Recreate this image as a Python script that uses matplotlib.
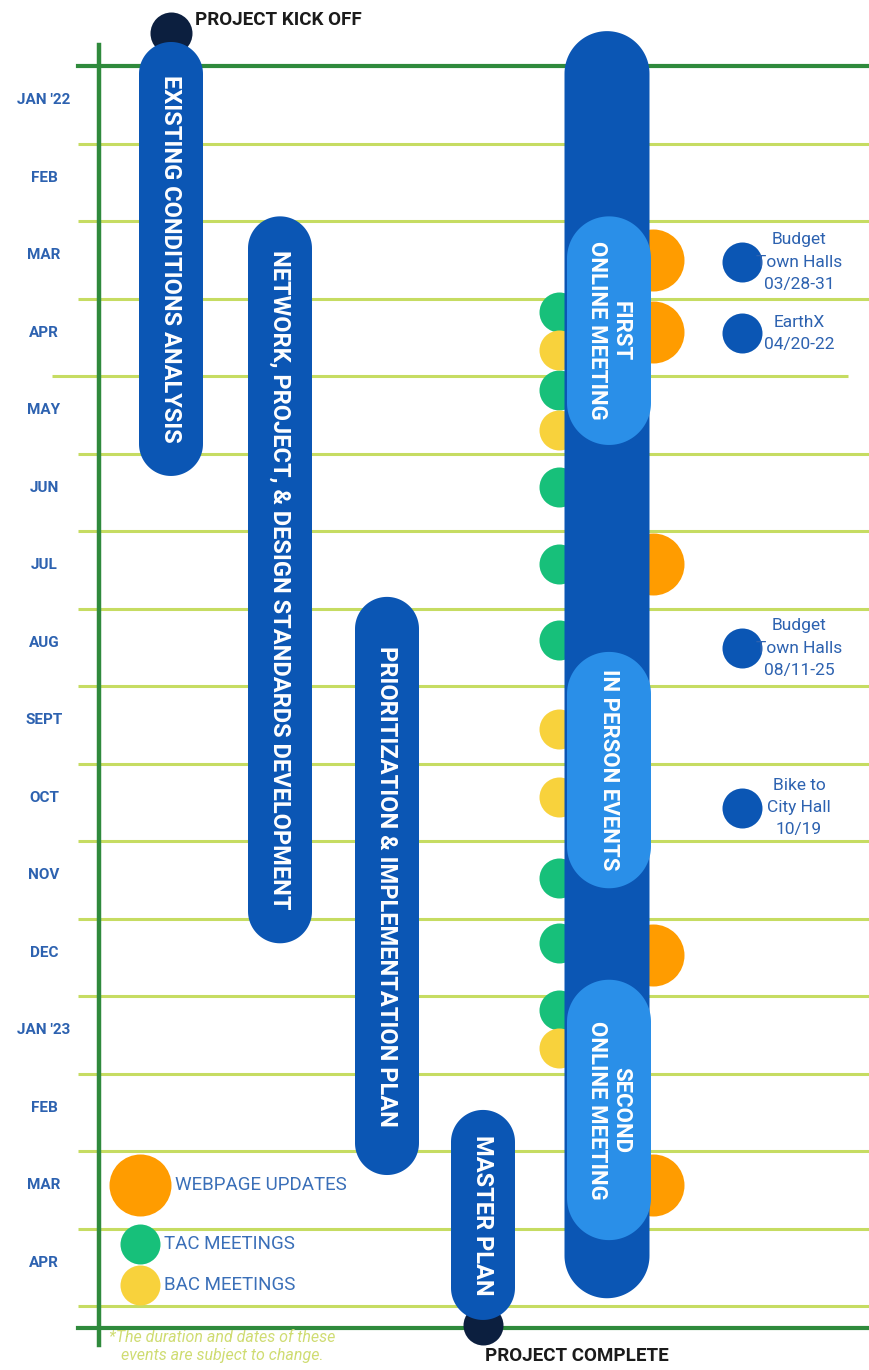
import numpy as np
import matplotlib
matplotlib.use("Agg")
import matplotlib.pyplot as plt
from matplotlib.patches import Polygon

# --- data (time in months, Jan '22 = 0) ---
months = ["JAN '22", "FEB", "MAR", "APR", "MAY", "JUN", "JUL", "AUG",
          "SEPT", "OCT", "NOV", "DEC", "JAN '23", "FEB", "MAR", "APR"]

phase_names = ["EXISTING CONDITIONS ANALYSIS",
               "NETWORK, PROJECT, & DESIGN STANDARDS DEVELOPMENT",
               "PRIORITIZATION & IMPLEMENTATION PLAN",
               "MASTER PLAN"]
phase_start = [-0.31, 1.94, 6.85, 13.47]
phase_end = [5.29, 11.32, 14.31, 16.18]

engage_start, engage_end = -0.45, 15.9
meeting_names = ["FIRST\nONLINE MEETING", "IN PERSON EVENTS", "SECOND\nONLINE MEETING"]
meeting_start = [1.94, 7.56, 11.79]
meeting_end = [4.89, 10.61, 15.15]

tac_months = [3.17, 4.18, 5.43, 6.43, 7.41, 10.48, 11.32, 12.18]
bac_months = [3.66, 4.70, 8.55, 9.43, 12.67]
web_months = [2.50, 3.43, 6.43, 11.47, 14.44]

event_months = [2.53, 3.45, 7.51, 9.57]
event_labels = ["Budget\nTown Halls\n03/28-31", "EarthX\n04/20-22",
                "Budget\nTown Halls\n08/11-25", "Bike to\nCity Hall\n10/19"]

kickoff_month, complete_month = -0.43, 16.25
bottom_line_month = 16.28

# --- style ---
PX = 77.5  # pixels per month
DARK_BLUE = "#0b56b4"
LIGHT_BLUE = "#2a8fe8"
ORANGE = "#ff9c00"
GREEN = "#17c07a"
YELLOW = "#f8d23c"
NAVY = "#0c1f3f"
DARK_GREEN = "#2f8a3c"
LIGHT_GREEN = "#c6dc62"
LABEL_BLUE = "#2d62b0"

plt.rcParams["font.family"] = ["Roboto", "DejaVu Sans"]

fig = plt.figure(figsize=(8.7, 13.7), dpi=100)
ax = fig.add_axes([0, 0, 1, 1])
ax.set_xlim(0, 870)
ax.set_ylim((1370 - 66) / PX, -66 / PX)
ax.axis("off")


def pill(xc, width, y0, y1, color, z):
    # vertical capsule: x in pixels, y in months
    r = width / 2
    ry = r / PX
    t = np.linspace(0, np.pi, 60)
    xs = np.concatenate([xc + r * np.cos(t), xc - r * np.cos(t)])
    ys = np.concatenate([y0 + ry - ry * np.sin(t), y1 - ry + ry * np.sin(t)])
    ax.add_patch(Polygon(np.column_stack([xs, ys]), closed=True, fc=color,
                         ec="none", zorder=z))


def s_of(d):
    return (d * 0.72) ** 2


# grid lines
for i in range(1, len(months) + 1):
    x0, x1 = (52, 848) if i == 4 else (78, 870)
    ax.plot([x0, x1], [i, i], color=LIGHT_GREEN, lw=2.2, zorder=1,
            solid_capstyle="butt")
ax.plot([78, 870], [0, 0], color=DARK_GREEN, lw=3, zorder=2)
ax.plot([78, 870], [bottom_line_month] * 2, color=DARK_GREEN, lw=3, zorder=2)
ax.plot([99, 99], [-0.27, 16.5], color=DARK_GREEN, lw=3.2, zorder=2)

# month labels
for i, m in enumerate(months):
    ax.text(44, i + 0.44, m, ha="center", va="center", fontsize=11,
            fontweight="bold", color=LABEL_BLUE, zorder=3)

# milestones
ax.scatter([171], [kickoff_month], s=s_of(42), color=NAVY, zorder=3, lw=0)
ax.scatter([483], [complete_month], s=s_of(40), color=NAVY, zorder=3, lw=0)
ax.text(195, -0.59, "PROJECT KICK OFF", ha="left", va="center",
        fontsize=13.5, fontweight="bold", color="#1b1b1b")
ax.text(485, 16.64, "PROJECT COMPLETE", ha="left", va="center",
        fontsize=13.5, fontweight="bold", color="#1b1b1b")

# phase pills
phase_x = [171, 280, 387, 483]
for name, xc, y0, y1 in zip(phase_names, phase_x, phase_start, phase_end):
    pill(xc, 64, y0, y1, DARK_BLUE, 5)
    ax.text(xc, (y0 + y1) / 2, name, rotation=270, ha="center", va="center",
            fontsize=17, fontweight="bold", color="white", zorder=6)

# meeting dots behind the engagement column
ax.scatter([559] * len(tac_months), tac_months, s=s_of(40), color=GREEN,
           lw=0, zorder=3)
ax.scatter([559] * len(bac_months), bac_months, s=s_of(40), color=YELLOW,
           lw=0, zorder=3)
ax.scatter([653] * len(web_months), web_months, s=s_of(62), color=ORANGE,
           lw=0, zorder=3)

# engagement column + meeting pills
pill(607, 85, engage_start, engage_end, DARK_BLUE, 5)
for name, y0, y1 in zip(meeting_names, meeting_start, meeting_end):
    pill(609, 84, y0, y1, LIGHT_BLUE, 6)
    ax.text(609, (y0 + y1) / 2, name, rotation=270, ha="center", va="center",
            fontsize=16, fontweight="bold", color="white", zorder=7,
            multialignment="center", linespacing=1.1)

# special events
ax.scatter([742] * len(event_months), event_months, s=s_of(40),
           color=DARK_BLUE, lw=0, zorder=3)
for m, lab in zip(event_months, event_labels):
    ax.text(799, m, lab, ha="center", va="center", fontsize=12.5,
            color=LABEL_BLUE, linespacing=1.6, zorder=3)

# legend
leg_items = [("WEBPAGE UPDATES", ORANGE, 62, 14.44, 175),
             ("TAC MEETINGS", GREEN, 40, 15.2, 164),
             ("BAC MEETINGS", YELLOW, 40, 15.73, 164)]
for lab, col, d, y, tx in leg_items:
    ax.scatter([140], [y], s=s_of(d), color=col, lw=0, zorder=3)
    ax.text(tx, y, lab, ha="left", va="center", fontsize=13.5,
            color="#3a6fb8", zorder=3)

ax.text(222, 16.52, "*The duration and dates of these\nevents are subject to change.",
        ha="center", va="center", fontsize=11.5, style="italic",
        color="#cfdc72", linespacing=1.2)

fig.savefig("out.png", dpi=100)
